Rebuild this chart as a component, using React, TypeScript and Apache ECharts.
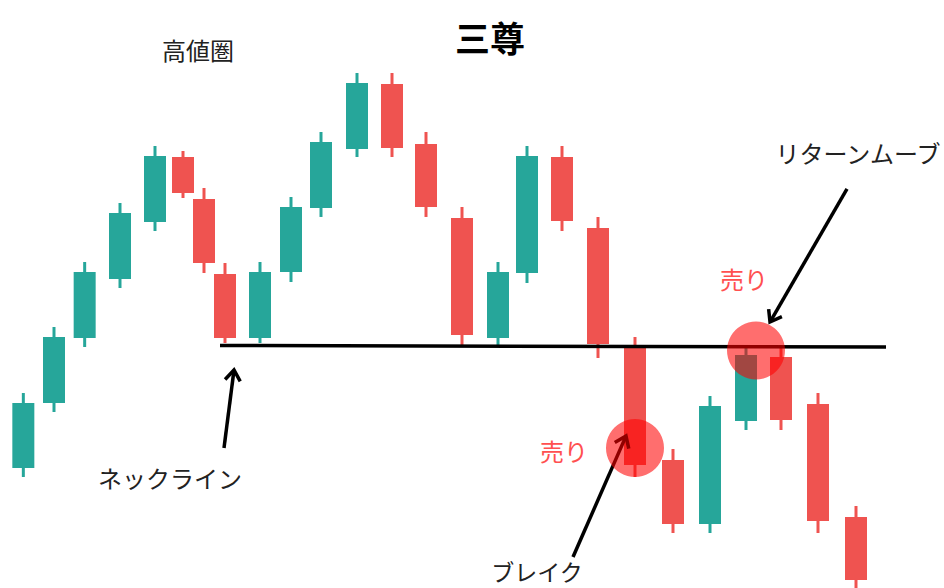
import React, { useEffect, useRef } from "react";
import * as echarts from "echarts";

// Candle positions (time units) and OHLC values (price units)
const candleX = [0.0, 0.92, 1.84, 2.9, 3.95, 4.79, 5.42, 6.05, 7.1, 8.03, 8.93, 10.01, 11.06, 12.08, 13.16, 14.24, 15.11, 16.16, 17.24, 18.35, 19.49, 20.6, 21.68, 22.73, 23.84, 24.98];
const opens = [20.41, 31.46, 42.52, 52.55, 62.24, 73.3, 66.16, 53.4, 42.52, 53.74, 64.63, 74.66, 85.71, 75.51, 62.93, 42.52, 53.57, 73.3, 61.22, 40.82, 21.77, 10.88, 28.4, 39.29, 31.29, 12.07];
const closes = [31.46, 42.69, 53.74, 63.78, 73.47, 67.18, 55.27, 42.52, 53.74, 64.8, 75.85, 85.88, 74.83, 64.8, 43.03, 53.74, 73.47, 62.41, 41.5, 20.92, 10.88, 30.95, 39.63, 28.57, 11.39, 1.36];
const lows = [18.88, 29.93, 40.99, 51.02, 60.71, 66.33, 53.57, 41.67, 41.67, 52.04, 63.1, 73.3, 73.3, 63.1, 41.33, 41.33, 51.87, 60.71, 39.12, 18.88, 9.35, 9.35, 26.87, 26.87, 9.35, -1.5];
const highs = [33.16, 44.39, 55.44, 65.48, 75.17, 74.32, 68.03, 55.27, 55.44, 66.5, 77.55, 87.59, 87.59, 77.55, 64.8, 55.44, 75.17, 75.17, 63.1, 42.69, 23.64, 32.65, 41.33, 41.33, 33.16, 13.95];

// Neckline endpoints
const necklineX = [5.9, 25.88];
const necklineY = [41.24, 40.99];

// Highlight circles (sell points)
const circleX = [18.35, 21.98];
const circleY = [23.81, 40.39];

// Arrows: [fromX, fromY, toX, toY]
const arrowFromX = [6.02, 16.49, 24.71];
const arrowFromY = [23.81, 5.27, 67.86];
const arrowToX = [6.32, 18.08, 22.4];
const arrowToY = [37.07, 25.85, 45.24];

const TITLE = "三尊";
const labelTexts = ["高値圏", "リターンムーブ", "売り", "売り", "ネックライン", "ブレイク"];

const GREEN = "#26a69a";
const RED = "#ef5350";
const FONT = "'Noto Sans CJK JP', 'Noto Sans', sans-serif";

export default function App() {
  const ref = useRef<HTMLDivElement>(null);

  useEffect(() => {
    document.body.style.margin = "0";
    if (!ref.current) return;
    const chart = echarts.init(ref.current, null, { renderer: "svg" });

    const candleData = candleX.map((x, i) => [x, opens[i], closes[i], lows[i], highs[i]]);
    const circleData = circleX.map((x, i) => [x, circleY[i]]);
    const arrowData = arrowFromX.map((x, i) => [x, arrowFromY[i], arrowToX[i], arrowToY[i]]);

    const txt = (x: number, y: number, text: string, fill: string, font: string) => ({
      type: "text",
      x,
      y,
      z: 100,
      style: { text, font, fill, textAlign: "center", textVerticalAlign: "middle" },
    });

    const option: any = {
      animation: false,
      backgroundColor: "#ffffff",
      grid: { left: 0, right: 0, top: 0, bottom: 0, containLabel: false },
      xAxis: { type: "value", min: -0.7, max: 27.62, show: false },
      yAxis: { type: "value", min: 0, max: 100, show: false },
      graphic: [
        txt(490, 36, TITLE, "#000", `bold 35px ${FONT}`),
        txt(198, 49, labelTexts[0], "#222", `24px ${FONT}`),
        txt(858, 152, labelTexts[1], "#222", `24px ${FONT}`),
        txt(744, 278, labelTexts[2], "#ff5050", `24px ${FONT}`),
        txt(564, 450, labelTexts[3], "#ff5050", `24px ${FONT}`),
        txt(170, 477, labelTexts[4], "#222", `24px ${FONT}`),
        txt(537, 571, labelTexts[5], "#222", `23px ${FONT}`),
      ],
      series: [
        {
          type: "custom",
          name: "candles",
          z: 2,
          data: candleData,
          encode: { x: 0, y: [1, 2, 3, 4] },
          renderItem: (params: any, api: any) => {
            const x = api.value(0);
            const o = api.value(1);
            const c = api.value(2);
            const l = api.value(3);
            const h = api.value(4);
            const pO = api.coord([x, o]);
            const pC = api.coord([x, c]);
            const pL = api.coord([x, l]);
            const pH = api.coord([x, h]);
            const w = api.size([0.66, 0])[0];
            const color = c >= o ? GREEN : RED;
            const top = Math.min(pO[1], pC[1]);
            const bh = Math.abs(pO[1] - pC[1]);
            return {
              type: "group",
              children: [
                { type: "rect", shape: { x: pO[0] - 1.5, y: pH[1], width: 3, height: pL[1] - pH[1] }, style: { fill: color } },
                { type: "rect", shape: { x: pO[0] - w / 2, y: top, width: w, height: bh }, style: { fill: color } },
              ],
            };
          },
        },
        {
          type: "line",
          name: "neckline",
          z: 3,
          data: necklineX.map((x, i) => [x, necklineY[i]]),
          symbol: "none",
          lineStyle: { color: "#000", width: 3.5 },
        },
        {
          type: "custom",
          name: "arrows",
          z: 4,
          data: arrowData,
          encode: { x: [0, 2], y: [1, 3] },
          renderItem: (params: any, api: any) => {
            const a = api.coord([api.value(0), api.value(1)]);
            const b = api.coord([api.value(2), api.value(3)]);
            const ang = Math.atan2(b[1] - a[1], b[0] - a[0]);
            const L = 13;
            const spread = Math.PI / 5;
            const p1 = [b[0] - L * Math.cos(ang - spread), b[1] - L * Math.sin(ang - spread)];
            const p2 = [b[0] - L * Math.cos(ang + spread), b[1] - L * Math.sin(ang + spread)];
            const e = [b[0] - 2 * Math.cos(ang), b[1] - 2 * Math.sin(ang)];
            return {
              type: "group",
              children: [
                { type: "line", shape: { x1: a[0], y1: a[1], x2: e[0], y2: e[1] }, style: { stroke: "#000", lineWidth: 3.5 } },
                { type: "polyline", shape: { points: [p1, b, p2] }, style: { stroke: "#000", lineWidth: 3.5, fill: null, lineJoin: "miter" } },
              ],
            };
          },
        },
        {
          type: "custom",
          name: "circles",
          z: 5,
          data: circleData,
          encode: { x: 0, y: 1 },
          renderItem: (params: any, api: any) => {
            const p = api.coord([api.value(0), api.value(1)]);
            return { type: "circle", shape: { cx: p[0], cy: p[1], r: 29 }, style: { fill: "rgba(255,0,0,0.57)" } };
          },
        },
      ],
    };

    chart.setOption(option);
    return () => chart.dispose();
  }, []);

  return <div ref={ref} style={{ position: "absolute", left: 0, top: 0, width: 944, height: 588 }} />;
}
